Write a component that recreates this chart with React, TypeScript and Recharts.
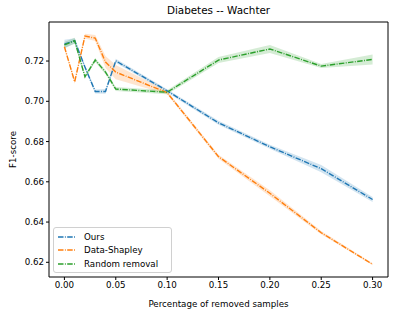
import { Area, ComposedChart, Line, XAxis, YAxis } from 'recharts';

const xs = [0, 0.01, 0.02, 0.03, 0.04, 0.05, 0.1, 0.15, 0.2, 0.25, 0.3];
const ours = [0.7284, 0.7301, 0.717, 0.7049, 0.7049, 0.7201, 0.7052, 0.6893, 0.6774, 0.6665, 0.6512];
const oursErr = [0.0022, 0.0012, 0.001, 0.001, 0.0012, 0.001, 0.0008, 0.001, 0.001, 0.0018, 0.0012];
const shapley = [0.7271, 0.7097, 0.7324, 0.7314, 0.7195, 0.7145, 0.7043, 0.6725, 0.6543, 0.6347, 0.619];
const shapleyErr = [0.001, 0.001, 0.0012, 0.0015, 0.003, 0.0035, 0.0008, 0.001, 0.0015, 0.0008, 0.0005];
const randomRem = [0.728, 0.7301, 0.7122, 0.7205, 0.7145, 0.7061, 0.7045, 0.7205, 0.726, 0.7175, 0.7208];
const randomErr = [0.0015, 0.0015, 0.001, 0.001, 0.001, 0.001, 0.001, 0.0015, 0.002, 0.001, 0.0025];

const xTicks = [0, 0.05, 0.1, 0.15, 0.2, 0.25, 0.3];
const yTicks = [0.62, 0.64, 0.66, 0.68, 0.7, 0.72];

const series = [
  { key: 'ours', label: 'Ours', color: '#1f77b4', vals: ours, err: oursErr },
  { key: 'shapley', label: 'Data-Shapley', color: '#ff7f0e', vals: shapley, err: shapleyErr },
  { key: 'random', label: 'Random removal', color: '#2ca02c', vals: randomRem, err: randomErr },
];

const data = xs.map((x, i) => {
  const row: Record<string, number | number[]> = { x };
  series.forEach(s => {
    row[s.key] = s.vals[i];
    row[s.key + 'Band'] = [s.vals[i] - s.err[i], s.vals[i] + s.err[i]];
  });
  return row;
});

const font = '"DejaVu Sans", sans-serif';
const dash = '5.5 1.4 0.9 1.4';
const tickStyle = { fontSize: 8.7, fill: '#000', fontFamily: font };
const xDomain = [-0.015, 0.315];
const yDomain = [0.6127, 0.7394];

export default function App() {
  return (
    <div style={{ position: 'absolute', left: 0, top: 0, width: 399, height: 314, background: '#fff', fontFamily: font }}>
      <div style={{ position: 'absolute', left: 49, width: 339, top: 4, textAlign: 'center', fontSize: 10.4, color: '#000' }}>
        Diabetes -- Wachter
      </div>
      <ComposedChart width={399} height={314} data={data} margin={{ top: 21, right: 10, left: 0, bottom: 0 }}>
        <XAxis
          dataKey="x"
          type="number"
          domain={xDomain}
          ticks={xTicks}
          tickFormatter={v => v.toFixed(2)}
          tick={tickStyle}
          tickSize={3}
          tickMargin={2}
          stroke="#000"
          height={37}
          allowDataOverflow
          label={{ value: 'Percentage of removed samples', position: 'insideBottom', offset: 7, style: { fontSize: 8.7, fill: '#000', fontFamily: font } }}
        />
        <XAxis xAxisId="top" orientation="top" dataKey="x" type="number" domain={xDomain} tick={false} tickLine={false} stroke="#000" height={1} />
        <YAxis
          type="number"
          domain={yDomain}
          ticks={yTicks}
          tickFormatter={v => v.toFixed(2)}
          tick={tickStyle}
          tickSize={3}
          tickMargin={2}
          stroke="#000"
          width={49}
          allowDataOverflow
          label={({ viewBox }: any) => (
            <text
              x={viewBox.x + 13}
              y={viewBox.y + viewBox.height / 2}
              transform={`rotate(-90 ${viewBox.x + 13} ${viewBox.y + viewBox.height / 2})`}
              textAnchor="middle"
              dominantBaseline="central"
              fontSize={8.7}
              fontFamily={font}
              fill="#000"
            >
              F1-score
            </text>
          )}
        />
        <YAxis yAxisId="right" orientation="right" type="number" domain={yDomain} tick={false} tickLine={false} stroke="#000" width={1} />
        {series.map(s => (
          <Area
            key={s.key + 'Band'}
            dataKey={s.key + 'Band'}
            type="linear"
            stroke="none"
            fill={s.color}
            fillOpacity={0.2}
            isAnimationActive={false}
          />
        ))}
        {series.map(s => (
          <Line
            key={s.key}
            dataKey={s.key}
            type="linear"
            stroke={s.color}
            strokeWidth={1.4}
            strokeDasharray={dash}
            dot={false}
            activeDot={false}
            isAnimationActive={false}
          />
        ))}
      </ComposedChart>
      <div
        style={{
          position: 'absolute',
          left: 53,
          top: 227,
          width: 117,
          height: 44,
          border: '1px solid #d0d0d0',
          borderRadius: 3,
          background: 'rgba(255,255,255,0.8)',
          fontSize: 8.7,
          color: '#000',
        }}
      >
        {series.map((s, i) => (
          <div key={s.key} style={{ position: 'absolute', left: 4, top: 2 + i * 13.5, height: 13, display: 'flex', alignItems: 'center' }}>
            <svg width={18} height={4} style={{ marginRight: 8 }}>
              <line x1={0} y1={2} x2={18} y2={2} stroke={s.color} strokeWidth={1.4} strokeDasharray={dash} />
            </svg>
            <span>{s.label}</span>
          </div>
        ))}
      </div>
    </div>
  );
}
